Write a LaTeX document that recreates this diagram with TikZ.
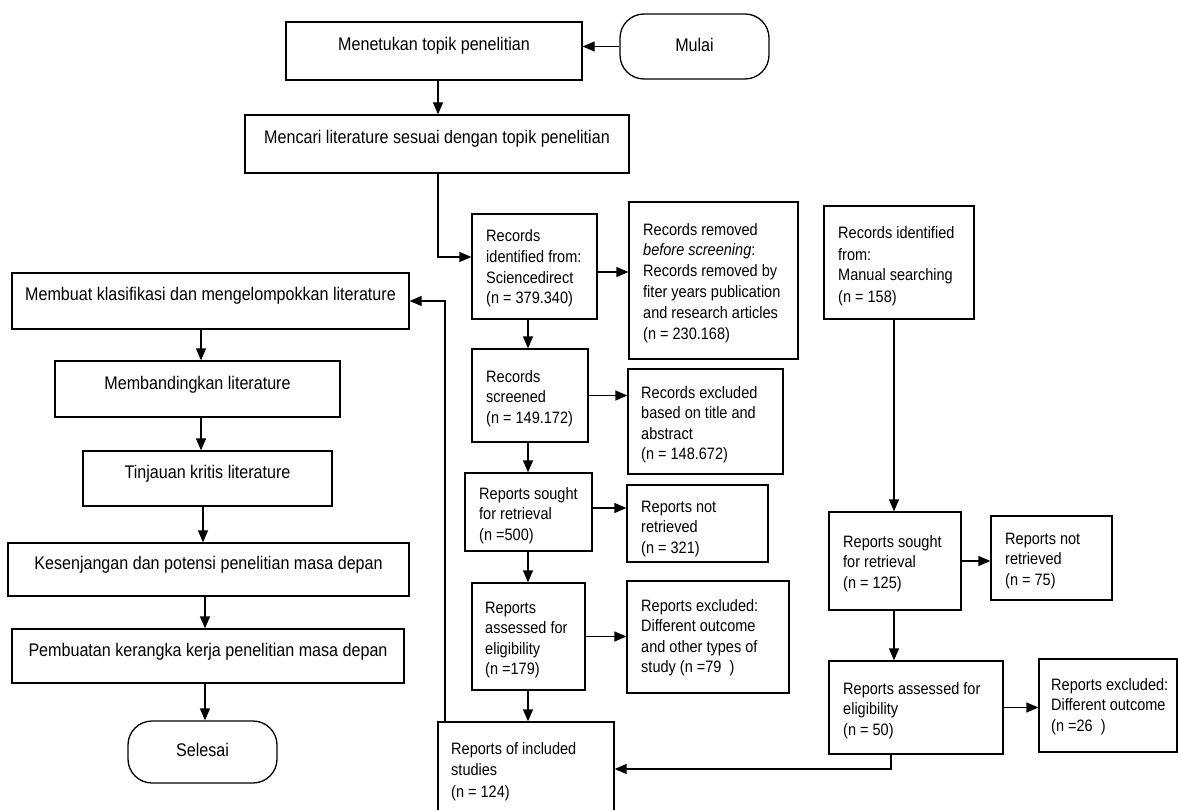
\documentclass[tikz,border=0pt]{standalone}
\usepackage{fontspec}
\setmainfont{Liberation Sans}[FakeStretch=0.88]
\usetikzlibrary{arrows.meta}
\newcommand\mainfnt{\fontsize{18.3}{22}\selectfont}
\newcommand\smallfnt{\fontsize{16.5}{20.5}\selectfont}
\begin{document}
\begin{tikzpicture}[x=1pt,y=-1pt,
  box/.style={draw, line width=1.3pt, rectangle, inner sep=0pt, text height=7pt, text depth=7pt, font=\mainfnt},
  term/.style={draw, line width=1.3pt, rectangle, rounded corners=24pt, inner sep=0pt, text height=10pt, text depth=0pt, font=\mainfnt},
  pbox/.style={draw, line width=1.3pt, rectangle, inner sep=0pt},
  txt/.style={anchor=base west, align=left, inner sep=0pt, font=\smallfnt},
  arr/.style={line width=1.3pt, -{Triangle[length=12pt,width=10pt]}}]
\useasboundingbox (0,0) rectangle (1178,810);
\clip (0,0) rectangle (1178,810);
% main column
\node[box, minimum width=296pt, minimum height=58pt] (men) at (434,51) {Menetukan topik penelitian};
\node[term, minimum width=149pt, minimum height=65pt] (mul) at (694.5,46.5) {Mulai};
\node[box, minimum width=384pt, minimum height=58pt] (mec) at (437,144) {Mencari literature sesuai dengan topik penelitian};
\node[box, minimum width=397pt, minimum height=56pt] (mb1) at (210.5,301) {Membuat klasifikasi dan mengelompokkan literature};
\node[box, minimum width=285pt, minimum height=56pt] (mb2) at (197.5,389) {Membandingkan literature};
\node[box, minimum width=249pt, minimum height=55pt] (tin) at (207.5,478.5) {Tinjauan kritis literature};
\node[box, minimum width=401pt, minimum height=53pt] (kes) at (208.5,569.5) {Kesenjangan dan potensi penelitian masa depan};
\node[box, minimum width=392pt, minimum height=54pt] (pem) at (208,656) {Pembuatan kerangka kerja penelitian masa depan};
\node[term, text height=9pt, minimum width=149pt, minimum height=62pt] (sel) at (202.5,752) {Selesai};
% PRISMA boxes
\node[pbox, minimum width=125pt, minimum height=105pt] (rid) at (534.5,266.5) {};
\node[pbox, minimum width=169pt, minimum height=157pt] (rem) at (713.5,280.5) {};
\node[pbox, minimum width=116pt, minimum height=93pt] (scr) at (530,395.5) {};
\node[pbox, minimum width=155pt, minimum height=105pt] (ex1) at (705.5,421.5) {};
\node[pbox, minimum width=127pt, minimum height=78pt] (so1) at (528.5,512) {};
\node[pbox, minimum width=141pt, minimum height=77pt] (nr1) at (697.5,523.5) {};
\node[pbox, minimum width=113pt, minimum height=107pt] (as1) at (528.5,636.5) {};
\node[pbox, minimum width=162pt, minimum height=112pt] (ex2) at (708,637) {};
\node[pbox, minimum width=176pt, minimum height=98pt] (inc) at (526,771) {};
\node[pbox, minimum width=150pt, minimum height=113pt] (man) at (899,262.5) {};
\node[pbox, minimum width=132pt, minimum height=98pt] (so2) at (895,561) {};
\node[pbox, minimum width=121pt, minimum height=84pt] (nr2) at (1051.5,558) {};
\node[pbox, minimum width=174pt, minimum height=93pt] (as2) at (916,707.5) {};
\node[pbox, minimum width=138pt, minimum height=93pt] (ex3) at (1108,705.5) {};
% texts (anchor = baseline of last line)
\node[txt] (trid) at (486,303.5) {Records\\identified from:\\Sciencedirect\\(n = 379.340)};
\node[txt, font=\fontsize{16.5}{20.8}\selectfont] (trem) at (643,339) {Records removed\\\textit{before screening}:\\Records removed by\\fiter years publication\\and research articles\\(n = 230.168)};
\node[txt] (tscr) at (486,423) {Records\\screened\\(n = 149.172)};
\node[txt] (tex1) at (641,459.5) {Records excluded\\based on title and\\abstract\\(n = 148.672)};
\node[txt] (tso1) at (479,540) {Reports sought\\for retrieval\\(n =500)};
\node[txt] (tnr1) at (641,553) {Reports not\\retrieved\\(n = 321)};
\node[txt] (tas1) at (485,674.5) {Reports\\assessed for\\eligibility\\(n =179)};
\node[txt] (tex2) at (641,672.5) {Reports excluded:\\Different outcome\\and other types of\\study (n =79\ \ )};
\node[txt, font=\fontsize{16.5}{21.5}\selectfont] (tinc) at (451,797) {Reports of included\\studies\\(n = 124)};
\node[txt, font=\fontsize{16.5}{21}\selectfont] (tman) at (838,302) {Records identified\\from:\\Manual searching\\(n = 158)};
\node[txt] (tso2) at (843,588) {Reports sought\\for retrieval\\(n = 125)};
\node[txt] (tnr2) at (1005,585) {Reports not\\retrieved\\(n = 75)};
\node[txt] (tas2) at (843,735) {Reports assessed for\\eligibility\\(n = 50)};
\node[txt] (tex3) at (1051,731) {Reports excluded:\\Different outcome\\(n =26\ \ )};
% helper coordinates
\coordinate (xa) at (438,0);
\coordinate (ya) at (0,257);
\coordinate (yb) at (0,272);
\coordinate (xb) at (528,0);
\coordinate (yc) at (0,508);
\coordinate (xc) at (445,0);
\coordinate (xd) at (894,0);
\coordinate (xe) at (891,0);
\coordinate (ye) at (0,769);
\coordinate (x1) at (201,0);
\coordinate (x2) at (203,0);
\coordinate (x3) at (205,0);
% connectors
\draw[arr] (mul.west) -- (mul.west -| men.east);
\draw[arr] (men.south -| xa) -- (mec.north -| xa);
\draw[arr] (mec.south -| xa) |- (rid.west |- ya);
\draw[arr] (rid.east |- yb) -- (rem.west |- yb);
\draw[arr] (rid.south -| xb) -- (scr.north -| xb);
\draw[arr] (scr.east) -- (scr.east -| ex1.west);
\draw[arr] (scr.south -| xb) -- (so1.north -| xb);
\draw[arr] (so1.east |- yc) -- (nr1.west |- yc);
\draw[arr] (so1.south -| xb) -- (as1.north -| xb);
\draw[arr] (as1.east) -- (as1.east -| ex2.west);
\draw[arr] (as1.south -| xb) -- (inc.north -| xb);
\draw[arr] (inc.north -| xc) |- (mb1.east);
\draw[arr] (man.south -| xd) -- (so2.north -| xd);
\draw[arr] (so2.east) -- (so2.east -| nr2.west);
\draw[arr] (so2.south -| xd) -- (as2.north -| xd);
\draw[arr] (as2.east) -- (as2.east -| ex3.west);
\draw[arr] (as2.south -| xe) |- (inc.east |- ye);
\draw[arr] (mb1.south -| x1) -- (mb2.north -| x1);
\draw[arr] (mb2.south -| x1) -- (tin.north -| x1);
\draw[arr] (tin.south -| x2) -- (kes.north -| x2);
\draw[arr] (kes.south -| x3) -- (pem.north -| x3);
\draw[arr] (pem.south -| x3) -- (sel.north -| x3);
\end{tikzpicture}
\end{document}
